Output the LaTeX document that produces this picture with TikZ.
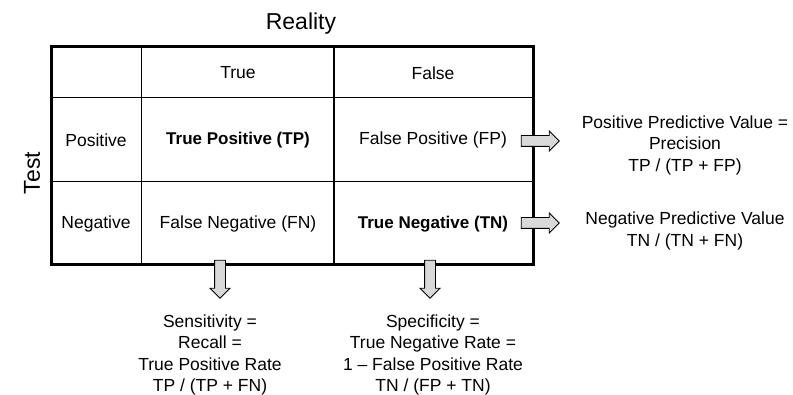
\documentclass[tikz,border=0pt]{standalone}
\usepackage{fontspec}
\setmainfont{Liberation Sans}
\usetikzlibrary{shapes.arrows}
\begin{document}
\begin{tikzpicture}[x=1pt,y=-1pt,
  txt/.style={font=\fontsize{17.5}{21.5}\selectfont, inner sep=0pt, align=center},
  boldtxt/.style={font=\fontsize{17}{21.5}\selectfont\bfseries, inner sep=0pt, align=center},
  bigtxt/.style={font=\fontsize{23}{26}\selectfont, inner sep=0pt},
  outerline/.style={line width=3pt},
  innerline/.style={line width=1.6pt},
  blockarrow/.style={single arrow, draw=black, line width=0.9pt, fill=black!15,
    inner sep=5pt, single arrow head extend=4.5pt, minimum height=38pt, minimum width=19pt}]
\useasboundingbox (0,0) rectangle (793,395);
\fill[white] (0,0) rectangle (793,395);
% table grid
\coordinate (tl) at (51,47);
\coordinate (br) at (533,265);
\draw[innerline] (141.5,47) -- (141.5,265);
\draw[innerline] (334,47) -- (334,265);
\draw[innerline] (51,97.5) -- (533,97.5);
\draw[innerline] (51,181.5) -- (533,181.5);
\draw[outerline] (tl) rectangle (br);
% titles
\node[bigtxt] (reality) at (301,24) {Reality};
\node[bigtxt, rotate=90] (test) at (32,173) {Test};
% header
\node[txt] (htrue) at (238,73) {True};
\node[txt] (hfalse) at (433,73) {False};
\node[txt] (hpos) at (96,140) {Positive};
\node[txt] (hneg) at (96,224) {Negative};
% cells
\node[boldtxt] (tp) at (238,140) {True Positive (TP)};
\node[txt] (fp) at (433,140) {False Positive (FP)};
\node[txt] (fn) at (238,224) {False Negative (FN)};
\node[boldtxt] (tn) at (433,224) {True Negative (TN)};
% arrows
\node[blockarrow] (a1) at (537.5,141) {};
\node[blockarrow] (a2) at (537.5,223) {};
\node[blockarrow, shape border rotate=270] (a3) at (220,276.5) {};
\node[blockarrow, shape border rotate=270] (a4) at (430,276.5) {};
% results
\node[txt] (ppv) at (685,145) {Positive Predictive Value =\\Precision\\TP / (TP + FP)};
\node[txt] (npv) at (685,231) {Negative Predictive Value\\TN / (TN + FN)};
\node[txt] (sens) at (210,355) {Sensitivity =\\Recall =\\True Positive Rate\\TP / (TP + FN)};
\node[txt] (spec) at (433,355) {Specificity =\\True Negative Rate =\\1 -- False Positive Rate\\TN / (FP + TN)};
\end{tikzpicture}
\end{document}
